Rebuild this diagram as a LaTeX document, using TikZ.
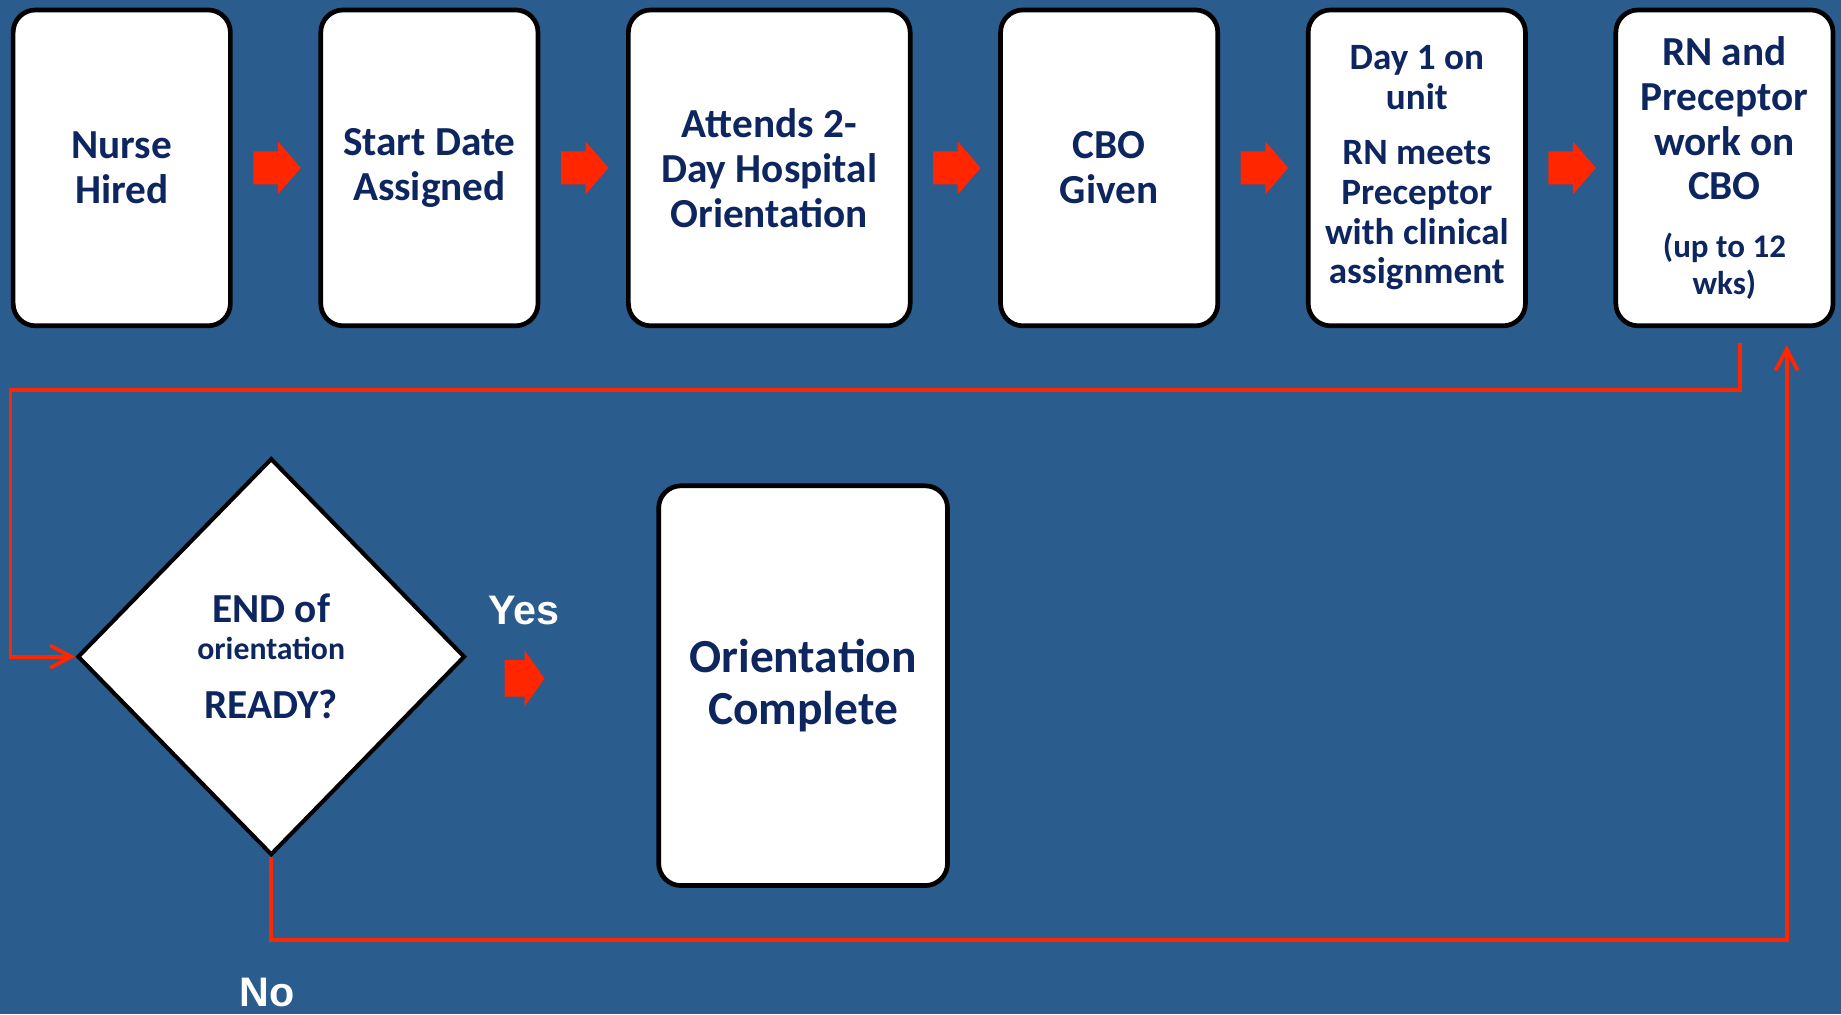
\documentclass[tikz,border=0pt]{standalone}
\usepackage{fontspec}
\setmainfont{Carlito}
\newfontfamily\labelfont{Liberation Sans}
\usetikzlibrary{positioning, shapes.geometric, arrows.meta}

\definecolor{slideBlue}{RGB}{42,92,141}
\definecolor{boxNavy}{RGB}{14,38,96}
\definecolor{arrowRed}{RGB}{255,38,0}

\tikzset{
  stageBox/.style={draw=black, line width=0.08cm, fill=white, rounded corners=0.38cm,
    minimum width=3.7cm, minimum height=5.38cm, inner sep=0pt, align=center,
    text=boxNavy, font=\bfseries\fontsize{20}{21.8}\selectfont},
  decisionBox/.style={diamond, draw=black, line width=0.07cm, fill=white,
    minimum width=6.6cm, minimum height=6.76cm, inner sep=0pt, align=center,
    text=boxNavy, font=\bfseries\fontsize{20}{22}\selectfont},
  labelText/.style={text=white, font=\labelfont\bfseries\fontsize{20}{24}\selectfont},
  loopLine/.style={draw=arrowRed, line width=0.065cm,
    -{Straight Barb[length=0.36cm, width=0.38cm]}}
}

\begin{document}
\begin{tikzpicture}
\useasboundingbox (0,0) rectangle (31.36,17.28);
\fill[slideBlue] (0,0) rectangle (31.36,17.28);

% top row of stages
\node[stageBox] (nurseHired) at (2.074,14.42) {Nurse\\Hired};
\node[stageBox, right=1.46cm of nurseHired] (startDate) {Start Date\\Assigned};
\node[stageBox, right=1.46cm of startDate, minimum width=4.8cm] (hospitalOrientation) {Attends 2-\\Day Hospital\\Orientation};
\node[stageBox, right=1.46cm of hospitalOrientation] (cboGiven) {CBO\\Given};
\node[stageBox, right=1.46cm of cboGiven, font=\bfseries\fontsize{18}{19.2}\selectfont] (dayOne) {Day 1 on\\unit\\[7.7pt]RN meets\\Preceptor\\with clinical\\assignment};
\node[stageBox, right=1.46cm of dayOne] (cboWork) {RN and\\Preceptor\\work on\\CBO\\[6pt]{\fontsize{16}{18}\selectfont (up to 12}\\[-3.7pt]{\fontsize{16}{18}\selectfont wks)}};

\fill[arrowRed] ([xshift=0.35cm]nurseHired.east) -- ++(0,0.28) -- ++(0.42,0) -- ++(0,0.17) -- ++(0.39,-0.45) -- ++(-0.39,-0.45) -- ++(0,0.17) -- ++(-0.42,0) -- cycle;
\fill[arrowRed] ([xshift=0.35cm]startDate.east) -- ++(0,0.28) -- ++(0.42,0) -- ++(0,0.17) -- ++(0.39,-0.45) -- ++(-0.39,-0.45) -- ++(0,0.17) -- ++(-0.42,0) -- cycle;
\fill[arrowRed] ([xshift=0.35cm]hospitalOrientation.east) -- ++(0,0.28) -- ++(0.42,0) -- ++(0,0.17) -- ++(0.39,-0.45) -- ++(-0.39,-0.45) -- ++(0,0.17) -- ++(-0.42,0) -- cycle;
\fill[arrowRed] ([xshift=0.35cm]cboGiven.east) -- ++(0,0.28) -- ++(0.42,0) -- ++(0,0.17) -- ++(0.39,-0.45) -- ++(-0.39,-0.45) -- ++(0,0.17) -- ++(-0.42,0) -- cycle;
\fill[arrowRed] ([xshift=0.35cm]dayOne.east) -- ++(0,0.28) -- ++(0.42,0) -- ++(0,0.17) -- ++(0.39,-0.45) -- ++(-0.39,-0.45) -- ++(0,0.17) -- ++(-0.42,0) -- cycle;

% decision and outcome
\node[decisionBox] (readyCheck) at (4.62,6.094) {END of\\[-4.4pt]{\fontsize{15.4}{17}\selectfont orientation}\\[7pt]READY?};
\node[stageBox, minimum width=4.92cm, minimum height=6.81cm, font=\bfseries\fontsize{23}{25}\selectfont] (orientationDone) at (13.68,5.6) {Orientation\\Complete};

\node[labelText, anchor=base] (yesLabel) at (8.92,6.64) {Yes};
\node[labelText, anchor=base] (noLabel) at (4.55,0.13) {No};

\fill[arrowRed] ([xshift=0.64cm, yshift=-0.37cm]readyCheck.east) -- ++(0,0.31) -- ++(0.34,0) -- ++(0,0.17) -- ++(0.34,-0.48) -- ++(-0.34,-0.48) -- ++(0,0.17) -- ++(-0.34,0) -- cycle;

% feedback loop between the last stage and the decision
\coordinate (loopStart) at ([xshift=0.26cm, yshift=-0.25cm]cboWork.south);
\coordinate (leftRail) at (0.18,10.64);
\coordinate (loopEnd) at ([xshift=1.06cm, yshift=-0.29cm]cboWork.south);
\coordinate (bottomRail) at (loopEnd |- 0,1.27);
\draw[loopLine] (loopStart) |- (leftRail) |- (readyCheck.west);
\draw[loopLine] (readyCheck.south) |- (bottomRail) -- (loopEnd);

\end{tikzpicture}
\end{document}
